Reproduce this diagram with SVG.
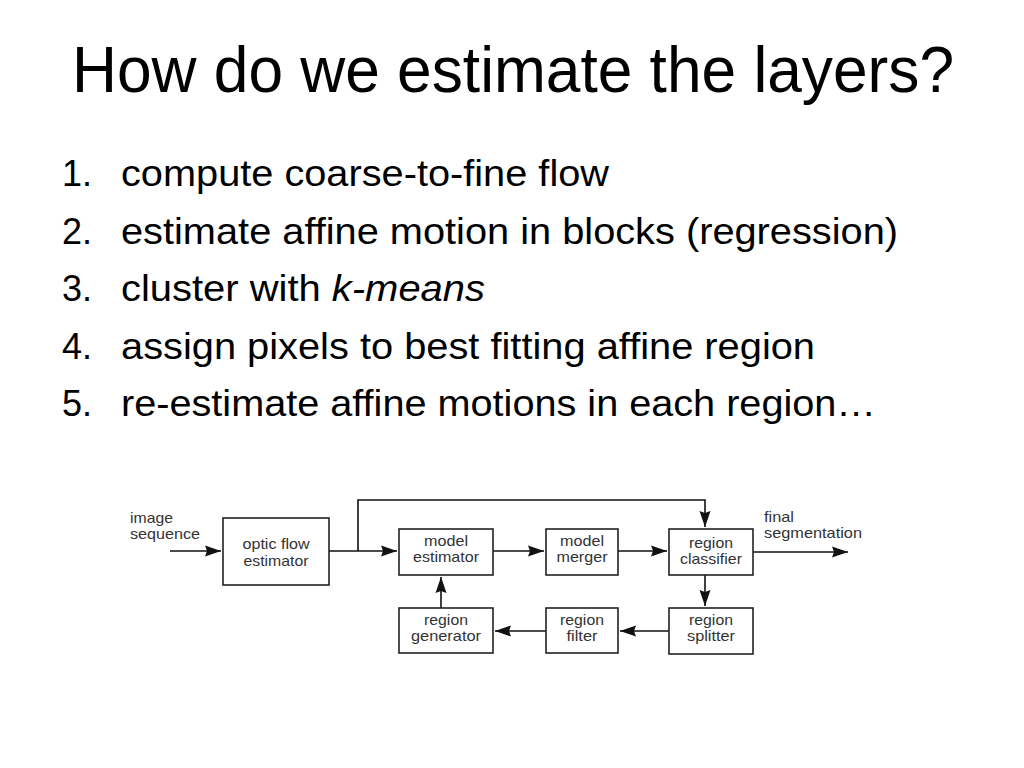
<svg xmlns="http://www.w3.org/2000/svg" width="1024" height="768" viewBox="0 0 1024 768">
<style>
.title{font-family:"Liberation Sans",Arial,sans-serif;font-size:64px;fill:#000}
.item{font-family:"Liberation Sans",Arial,sans-serif;font-size:36px;fill:#000}
.lbl{font-family:"Liberation Sans",Arial,sans-serif;font-size:15px;fill:#333}
.ctr{text-anchor:middle}
.box{fill:#fff;stroke:#222;stroke-width:1.6}
.con{fill:none;stroke:#111;stroke-width:1.6}
</style>
<defs>
<marker id="ah" viewBox="0 -6 17 12" markerWidth="17" markerHeight="12" refX="16" refY="0" orient="auto" markerUnits="userSpaceOnUse">
<path d="M0,-5.5 L16,0 L0,5.5 L2,0 z" fill="#111"/>
</marker>
</defs>
<rect width="1024" height="768" fill="#fff"/>
<text class="title" x="72" y="92" textLength="882" lengthAdjust="spacingAndGlyphs">How do we estimate the layers?</text>
<g id="list">
<text class="item" x="62" y="186">1.</text>
<text class="item" x="121" y="186" textLength="488" lengthAdjust="spacingAndGlyphs">compute coarse-to-fine flow</text>
<text class="item" x="62" y="243.5">2.</text>
<text class="item" x="121" y="243.5" textLength="777" lengthAdjust="spacingAndGlyphs">estimate affine motion in blocks (regression)</text>
<text class="item" x="62" y="301">3.</text>
<text class="item" x="121" y="301" textLength="364" lengthAdjust="spacingAndGlyphs">cluster with <tspan font-style="italic">k-means</tspan></text>
<text class="item" x="62" y="358.5">4.</text>
<text class="item" x="121" y="358.5" textLength="694" lengthAdjust="spacingAndGlyphs">assign pixels to best fitting affine region</text>
<text class="item" x="62" y="416">5.</text>
<text class="item" x="121" y="416" textLength="755" lengthAdjust="spacingAndGlyphs">re-estimate affine motions in each region…</text>
</g>
<g id="connectors">
<path class="con" d="M170,551 L221,551" marker-end="url(#ah)"/>
<path class="con" d="M329,551 L397,551" marker-end="url(#ah)"/>
<path class="con" d="M358,551 L358,500 L705,500 L705,527" marker-end="url(#ah)"/>
<path class="con" d="M493,551 L544,551" marker-end="url(#ah)"/>
<path class="con" d="M618,551 L667,551" marker-end="url(#ah)"/>
<path class="con" d="M753,552 L848,552" marker-end="url(#ah)"/>
<path class="con" d="M705,575 L705,606" marker-end="url(#ah)"/>
<path class="con" d="M669,631 L620,631" marker-end="url(#ah)"/>
<path class="con" d="M546,631 L495,631" marker-end="url(#ah)"/>
<path class="con" d="M441,608 L441,577" marker-end="url(#ah)"/>
</g>
<g id="in-label">
<text class="lbl" x="130" y="523" textLength="43" lengthAdjust="spacingAndGlyphs">image</text>
<text class="lbl" x="130" y="539" textLength="70" lengthAdjust="spacingAndGlyphs">sequence</text>
</g>
<g id="out-label">
<text class="lbl" x="764" y="522" textLength="30" lengthAdjust="spacingAndGlyphs">final</text>
<text class="lbl" x="764" y="538" textLength="98" lengthAdjust="spacingAndGlyphs">segmentation</text>
</g>
<g id="optic-flow-estimator">
<rect class="box" x="223" y="518" width="106" height="67"/>
<text class="lbl ctr" x="276" y="549" textLength="67" lengthAdjust="spacingAndGlyphs">optic flow</text>
<text class="lbl ctr" x="276" y="566" textLength="65" lengthAdjust="spacingAndGlyphs">estimator</text>
</g>
<g id="model-estimator">
<rect class="box" x="399" y="529" width="94" height="46"/>
<text class="lbl ctr" x="446" y="546" textLength="44" lengthAdjust="spacingAndGlyphs">model</text>
<text class="lbl ctr" x="446" y="562" textLength="66" lengthAdjust="spacingAndGlyphs">estimator</text>
</g>
<g id="model-merger">
<rect class="box" x="546" y="529" width="72" height="46"/>
<text class="lbl ctr" x="582" y="546" textLength="44" lengthAdjust="spacingAndGlyphs">model</text>
<text class="lbl ctr" x="582" y="562" textLength="51" lengthAdjust="spacingAndGlyphs">merger</text>
</g>
<g id="region-classifier">
<rect class="box" x="669" y="529" width="84" height="46"/>
<text class="lbl ctr" x="711" y="548" textLength="44" lengthAdjust="spacingAndGlyphs">region</text>
<text class="lbl ctr" x="711" y="564" textLength="62" lengthAdjust="spacingAndGlyphs">classifier</text>
</g>
<g id="region-generator">
<rect class="box" x="399" y="608" width="94" height="45"/>
<text class="lbl ctr" x="446" y="625" textLength="44" lengthAdjust="spacingAndGlyphs">region</text>
<text class="lbl ctr" x="446" y="641" textLength="70" lengthAdjust="spacingAndGlyphs">generator</text>
</g>
<g id="region-filter">
<rect class="box" x="546" y="608" width="72" height="45"/>
<text class="lbl ctr" x="582" y="625" textLength="44" lengthAdjust="spacingAndGlyphs">region</text>
<text class="lbl ctr" x="582" y="641" textLength="31" lengthAdjust="spacingAndGlyphs">filter</text>
</g>
<g id="region-splitter">
<rect class="box" x="669" y="608" width="84" height="46"/>
<text class="lbl ctr" x="711" y="625" textLength="44" lengthAdjust="spacingAndGlyphs">region</text>
<text class="lbl ctr" x="711" y="641" textLength="48" lengthAdjust="spacingAndGlyphs">splitter</text>
</g>
</svg>
